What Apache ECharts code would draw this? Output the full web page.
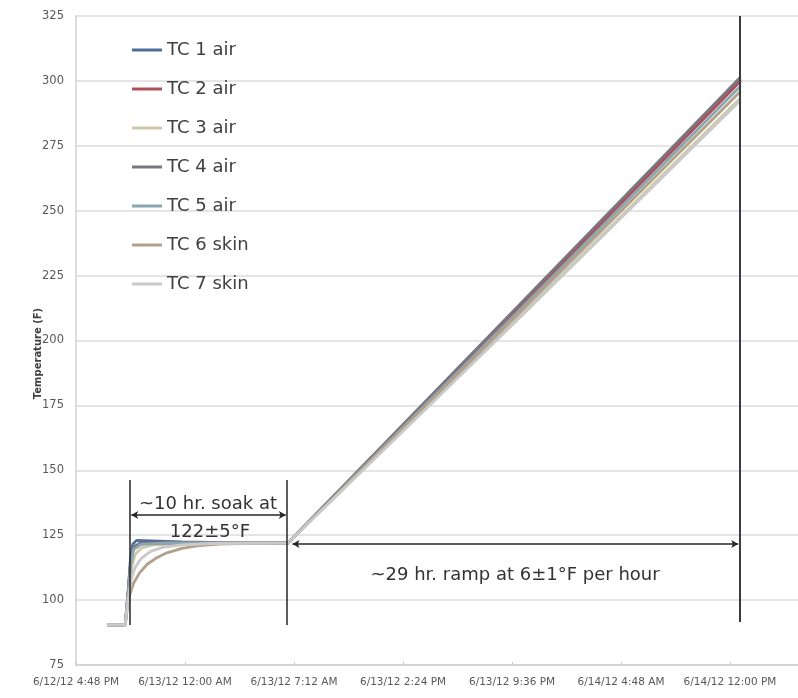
<!DOCTYPE html>
<html>
<head>
<meta charset="utf-8">
<script src="https://cdn.jsdelivr.net/npm/echarts@6/dist/echarts.min.js"></script>
<style>
  html, body { margin: 0; padding: 0; background: #fff; }
  #chart { width: 798px; height: 698px; }
</style>
</head>
<body>
<div id="chart"></div>
<script>
// Time is in hours after 6/12/12 4:48 PM; temperatures in °F.
const tickLabels = [
  '6/12/12 4:48 PM', '6/13/12 12:00 AM', '6/13/12 7:12 AM', '6/13/12 2:24 PM',
  '6/13/12 9:36 PM', '6/14/12 4:48 AM', '6/14/12 12:00 PM'
];
const seriesNames = ['TC 1 air', 'TC 2 air', 'TC 3 air', 'TC 4 air', 'TC 5 air', 'TC 6 skin', 'TC 7 skin'];
const seriesColors = ['#4F6E9C', '#B0505A', '#CFC9A8', '#7A7680', '#8AA6B0', '#B3A089', '#C9C9C9'];

const tc1 = [[2.1, 90.5], [3.25, 90.5], [3.45, 104], [3.6, 116], [3.75, 121.5], [4.0, 123], [5, 122.8], [7, 122.4], [10, 122.1], [14, 122], [29, 211.5], [43.9, 300.5]];
const tc2 = [[2.1, 90.5], [3.25, 90.5], [3.45, 103], [3.6, 114], [3.8, 120], [4.2, 121.6], [5, 122], [14, 122], [29, 211], [43.9, 300]];
const tc3 = [[2.1, 90.5], [3.25, 90.5], [3.5, 104], [3.7, 113], [3.9, 117.5], [4.3, 120], [5, 121.2], [7, 121.8], [14, 122], [29, 207.5], [43.9, 293.5]];
const tc4 = [[2.1, 90.5], [3.25, 90.5], [3.45, 103], [3.6, 114], [3.8, 120.5], [4.2, 121.8], [6, 122], [14, 122], [29, 212], [43.9, 301.5]];
const tc5 = [[2.1, 90.5], [3.25, 90.5], [3.45, 103], [3.6, 113], [3.8, 119.5], [4.3, 121.5], [6, 122], [14, 122], [29, 210], [43.9, 298]];
const tc6 = [[2.1, 90.5], [3.25, 90.5], [3.4, 97], [3.55, 102], [3.8, 106.5], [4.2, 110.5], [4.7, 113.8], [5.3, 116.2], [6, 118.2], [7, 119.9], [8, 120.9], [9.5, 121.6], [11.5, 121.9], [14, 122], [29, 209], [43.9, 296]];
const tc7 = [[2.1, 90.5], [3.25, 90.5], [3.45, 101], [3.65, 108], [3.9, 112.5], [4.3, 116], [4.9, 118.7], [5.7, 120.3], [7, 121.3], [9, 121.8], [14, 122], [29, 207], [43.9, 292.5]];
const seriesData = [tc1, tc2, tc3, tc4, tc5, tc6, tc7];

// Bracket lines and labels, in axis units
const soakStart = 3.57, soakEnd = 13.94, rampEnd = 43.86;
const soakText = ['~10 hr. soak at', '122±5°F'];
const rampText = '~29 hr. ramp at 6±1°F per hour';

const chart = echarts.init(document.getElementById('chart'));

const lineSeries = seriesNames.map((name, i) => ({
  name: name,
  type: 'line',
  data: seriesData[i],
  symbol: 'none',
  smooth: false,
  color: seriesColors[i],
  lineStyle: { width: 2.8, color: seriesColors[i] },
  z: 2
}));

const textStyle = { fontFamily: 'DejaVu Sans', fontSize: 18, color: '#333333' };

const annotation = {
  name: 'brackets',
  type: 'line',
  data: [],
  symbol: 'none',
  z: 5,
  markLine: {
    silent: true,
    symbol: ['none', 'none'],
    label: { show: false },
    lineStyle: { type: 'solid', color: '#262626', width: 1.5 },
    data: [
      [{ coord: [soakStart, 146.3] }, { coord: [soakStart, 90.4] }],
      [{ coord: [soakEnd, 146.3] }, { coord: [soakEnd, 90.4] }],
      [{ coord: [rampEnd, 325] }, { coord: [rampEnd, 91.6], lineStyle: { color: '#3a3a40', width: 2 } }],
      [
        { coord: [soakStart + 0.08, 132.8], symbol: 'arrow', symbolSize: [6, 7] },
        { coord: [soakEnd - 0.08, 132.8], symbol: 'arrow', symbolSize: [6, 7] }
      ],
      [
        { coord: [14.3, 121.6], symbol: 'arrow', symbolSize: [6, 7] },
        { coord: [rampEnd - 0.12, 121.6], symbol: 'arrow', symbolSize: [6, 7] }
      ]
    ]
  },
  markPoint: {
    silent: true,
    symbol: 'circle',
    symbolSize: 0,
    label: Object.assign({ show: true, position: 'inside' }, textStyle),
    data: [
      { coord: [8.72, 136.8], value: soakText[0], label: { formatter: soakText[0] } },
      { coord: [8.85, 126.2], value: soakText[1], label: { formatter: soakText[1] } },
      { coord: [29.0, 109.7], value: rampText, label: { formatter: rampText } }
    ]
  }
};

chart.setOption({
  backgroundColor: '#ffffff',
  animation: false,
  grid: { left: 76, right: 0, top: 16, bottom: 33 },
  legend: {
    data: seriesNames,
    orient: 'vertical',
    left: 127,
    top: 36,
    icon: 'rect',
    itemWidth: 30,
    itemHeight: 3,
    itemGap: 21,
    textStyle: { fontFamily: 'DejaVu Sans', fontSize: 18, color: '#404040', padding: [0, 0, 0, 0] }
  },
  xAxis: {
    type: 'value',
    min: 0,
    max: 47.69,
    interval: 7.2,
    axisLine: { show: true, lineStyle: { color: '#d0d0d0', width: 1.5 } },
    axisTick: { show: true, length: 3, inside: true, lineStyle: { color: '#c8c8c8' } },
    splitLine: { show: false },
    axisLabel: {
      showMaxLabel: false,
      margin: 12,
      fontFamily: 'DejaVu Sans',
      fontSize: 10.5,
      color: '#595959',
      formatter: function (v) {
        const k = Math.round(v / 7.2);
        return Math.abs(v - k * 7.2) < 1e-6 && tickLabels[k] ? tickLabels[k] : '';
      }
    }
  },
  yAxis: {
    type: 'value',
    min: 75,
    max: 325,
    interval: 25,
    name: 'Temperature (F)',
    nameLocation: 'middle',
    nameGap: 33,
    nameMoveOverlap: false,
    nameTextStyle: { fontFamily: 'DejaVu Sans', fontSize: 10, fontWeight: 'bold', color: '#404040', padding: [0, 0, 0, -26] },
    axisLine: { show: true, lineStyle: { color: '#d0d0d0', width: 1.5 } },
    axisTick: { show: false },
    splitLine: { show: true, lineStyle: { color: '#dcdcdc', width: 1.5 } },
    axisLabel: { margin: 12, fontFamily: 'DejaVu Sans', fontSize: 11.5, color: '#595959' }
  },
  series: lineSeries.concat([annotation])
});
</script>
</body>
</html>
